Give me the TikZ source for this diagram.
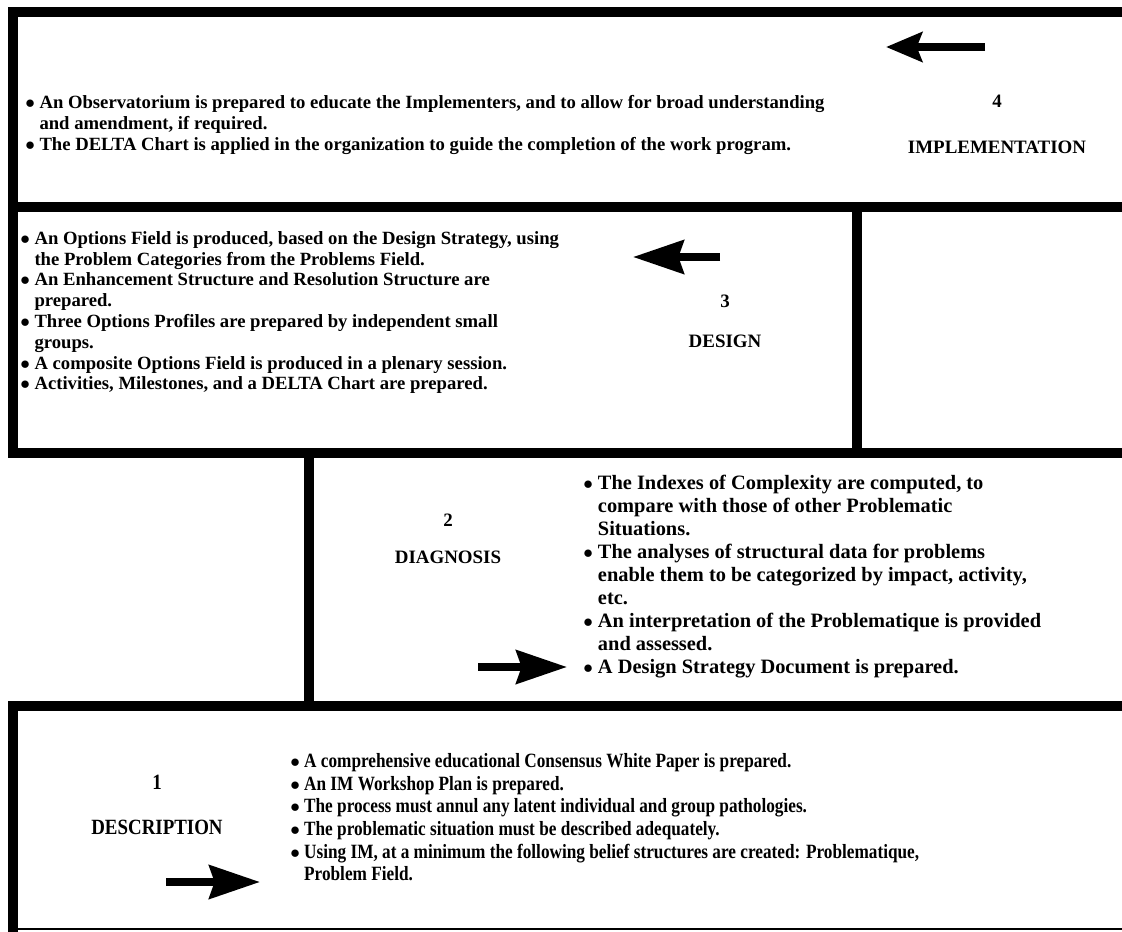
\documentclass[tikz,border=0pt]{standalone}
\usepackage{fontspec}
\setmainfont{Liberation Serif}
\newfontfamily\tallfont[FakeStretch=0.87]{Liberation Serif}
\newfontfamily\narrowfont[FakeStretch=0.85]{Liberation Serif}
\usepackage{tikz}
\usetikzlibrary{arrows.meta, positioning}
\newcommand{\itm}{$\bullet$\ }
\newcommand{\cnt}{\phantom{\itm}}

\begin{document}
\begin{tikzpicture}[
    x=0.75pt, y=-0.75pt,
    frame/.style={line width=7.5pt},
    thinframe/.style={line width=1.5pt},
    phase/.style={font=\bfseries\fontsize{14.2}{16}\selectfont, inner sep=0pt},
    tallphase/.style={font=\tallfont\bfseries\fontsize{16.3}{18.5}\selectfont, inner sep=0pt},
    items/.style={font=\bfseries\fontsize{14}{#1}\selectfont, align=left, anchor=north west, inner sep=0pt},
    bigitems/.style={font=\bfseries\fontsize{15.3}{#1}\selectfont, align=left, anchor=north west, inner sep=0pt},
    tallitems/.style={font=\narrowfont\bfseries\fontsize{15.2}{#1}\selectfont, align=left, anchor=north west, inner sep=0pt},
    bigarrow/.style={line width=6pt, -{Stealth[length=38pt, width=25pt, inset=4pt]}}
]
    \useasboundingbox (0,0) rectangle (1122,932);

    % frame of the four stages
    \draw[frame] (1122,12) -- (13,12) -- (13,453) -- (1122,453);
    \draw[frame] (13,207) -- (1122,207);
    \draw[frame] (857,207) -- (857,453);
    \draw[frame] (309,453) -- (309,706);
    \draw[frame] (1122,706) -- (13,706) -- (13,932);
    \draw[thinframe] (8,929) -- (1122,929);

    % 4 implementation
    \node[items=15.6] (implitems) at (25,95) {\itm An Observatorium is prepared to educate the Implementers, and to allow for broad understanding\\
    \cnt and amendment, if required.\\
    \itm The DELTA Chart is applied in the organization to guide the completion of the work program.};
    \node[phase] (num4) at (997,101) {4};
    \node[phase, below=25pt of num4] (impl) {IMPLEMENTATION};
    \coordinate (impls) at (985,47);
    \coordinate (imple) at (886,47);
    \draw[bigarrow, -{Stealth[length=27pt, width=22pt, inset=4pt]}] (impls) -- (imple);

    % 3 design
    \node[items=15.6] (designitems) at (20,231) {\itm An Options Field is produced, based on the Design Strategy, using\\
    \cnt the Problem Categories from the Problems Field.\\
    \itm An Enhancement Structure and Resolution Structure are\\
    \cnt prepared.\\
    \itm Three Options Profiles are prepared by independent small\\
    \cnt groups.\\
    \itm A composite Options Field is produced in a plenary session.\\
    \itm Activities, Milestones, and a DELTA Chart are prepared.};
    \node[phase] (num3) at (725,301) {3};
    \node[phase, below=20pt of num3] (design) {DESIGN};
    \coordinate (designs) at (720,257);
    \coordinate (designe) at (633,257);
    \draw[bigarrow] (designs) -- (designe);

    % 2 diagnosis
    \node[bigitems=17.25] (diagitems) at (583,475) {\itm The Indexes of Complexity are computed, to\\
    \cnt compare with those of other Problematic\\
    \cnt Situations.\\
    \itm The analyses of structural data for problems\\
    \cnt enable them to be categorized by impact, activity,\\
    \cnt etc.\\
    \itm An interpretation of the Problematique is provided\\
    \cnt and assessed.\\
    \itm A Design Strategy Document is prepared.};
    \node[phase] (num2) at (448,520) {2};
    \node[phase, below=18pt of num2] (diag) {DIAGNOSIS};
    \coordinate (diags) at (478,667);
    \coordinate (diage) at (567,667);
    \draw[bigarrow] (diags) -- (diage);

    % 1 description
    \node[tallitems=17] (descitems) at (290,753) {\itm A comprehensive educational Consensus White Paper is prepared.\\
    \itm An IM Workshop Plan is prepared.\\
    \itm The process must annul any latent individual and group pathologies.\\
    \itm The problematic situation must be described adequately.\\
    \itm Using IM, at a minimum the following belief structures are created: Problematique,\\
    \cnt Problem Field.};
    \node[tallphase] (num1) at (157,782) {1};
    \node[tallphase, below=23pt of num1] (descr) {DESCRIPTION};
    \coordinate (descrs) at (166,882);
    \coordinate (descre) at (260,882);
    \draw[bigarrow] (descrs) -- (descre);
\end{tikzpicture}
\end{document}
